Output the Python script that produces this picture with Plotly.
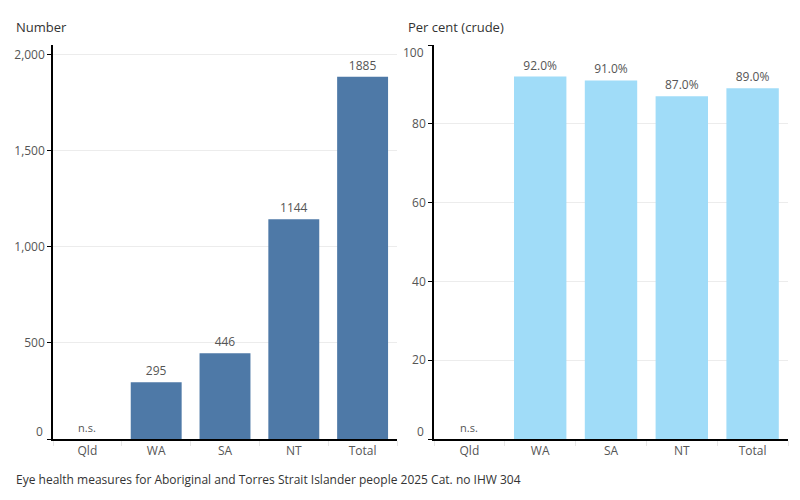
import plotly.graph_objects as go

categories = ["Qld", "WA", "SA", "NT", "Total"]
numbers = [None, 295, 446, 1144, 1885]
percents = [None, 92.0, 91.0, 87.0, 89.0]
number_labels = ["", "295", "446", "1144", "1885"]
percent_labels = ["", "92.0%", "91.0%", "87.0%", "89.0%"]
left_ticks = [0, 500, 1000, 1500, 2000]
right_ticks = [0, 20, 40, 60, 80, 100]

FONT = "Open Sans"
TXT = "#555555"
Y0, Y1 = 1 - 439 / 500, 1 - 45 / 500

fig = go.Figure()
fig.add_trace(go.Bar(x=categories, y=numbers, text=number_labels, textposition="outside",
                     marker=dict(color="#4e79a7", line=dict(width=0)), cliponaxis=False,
                     textfont=dict(family=FONT, size=12, color=TXT), xaxis="x", yaxis="y"))
fig.add_trace(go.Bar(x=categories, y=percents, text=percent_labels, textposition="outside",
                     marker=dict(color="#a0dcf8", line=dict(width=0)), cliponaxis=False,
                     textfont=dict(family=FONT, size=12, color=TXT), xaxis="x2", yaxis="y2"))

xcommon = dict(type="category", showline=True, linecolor="black", linewidth=1.5,
               ticks="outside", tickson="boundaries", tickcolor="#e6e6e6", ticklen=5,
               tickfont=dict(family=FONT, size=12, color=TXT), showgrid=False, fixedrange=True)
ycommon = dict(showline=True, linecolor="black", linewidth=1.5, ticks="outside",
               tickcolor="black", ticklen=4, showgrid=True, gridcolor="#ececec",
               zeroline=False, tickfont=dict(family=FONT, size=12, color=TXT))

fig.update_layout(
    xaxis=dict(domain=[53 / 800, 397 / 800], anchor="y", **xcommon),
    yaxis=dict(domain=[Y0, Y1], anchor="x", range=[0, 2050], tickvals=left_ticks,
               ticktext=["" if v == 0 else f"{v:,}" for v in left_ticks], **ycommon),
    xaxis2=dict(domain=[434 / 800, 788 / 800], anchor="y2", **xcommon),
    yaxis2=dict(domain=[Y0, Y1], anchor="x2", range=[0, 100], tickvals=right_ticks,
                ticktext=["" if v in (0, 100) else str(v) for v in right_ticks], **ycommon),
    bargap=0.26,
    showlegend=False,
    plot_bgcolor="white", paper_bgcolor="white",
    width=800, height=500,
    margin=dict(l=0, r=0, t=0, b=0),
    font=dict(family=FONT, size=12, color=TXT),
)

ann = []
ann.append(dict(x=0, y=0, xref="x domain", yref="y", text="0", showarrow=False,
                xanchor="right", yanchor="middle", xshift=-8, yshift=8,
                font=dict(family=FONT, size=12, color=TXT)))
ann.append(dict(x=0, y=0, xref="x2 domain", yref="y2", text="0", showarrow=False,
                xanchor="right", yanchor="middle", xshift=-8, yshift=8,
                font=dict(family=FONT, size=12, color=TXT)))
ann.append(dict(x=0, y=100, xref="x2 domain", yref="y2", text="100", showarrow=False,
                xanchor="right", yanchor="middle", xshift=-8, yshift=-8,
                font=dict(family=FONT, size=12, color=TXT)))
ann.append(dict(x="Qld", y=0, xref="x", yref="y", text="n.s.", showarrow=False,
                yanchor="bottom", yshift=2, font=dict(family=FONT, size=11, color=TXT)))
ann.append(dict(x="Qld", y=0, xref="x2", yref="y2", text="n.s.", showarrow=False,
                yanchor="bottom", yshift=2, font=dict(family=FONT, size=11, color=TXT)))
ann.append(dict(x=15 / 800, y=1 - 27 / 500, xref="paper", yref="paper", text="Number",
                showarrow=False, xanchor="left", yanchor="middle", borderpad=0,
                font=dict(family=FONT, size=13, color="#333333")))
ann.append(dict(x=407 / 800, y=1 - 27 / 500, xref="paper", yref="paper", text="Per cent (crude)",
                showarrow=False, xanchor="left", yanchor="middle", borderpad=0,
                font=dict(family=FONT, size=13, color="#333333")))
ann.append(dict(x=15 / 800, y=1 - 479 / 500, xref="paper", yref="paper",
                text="Eye health measures for Aboriginal and Torres Strait Islander people 2025 Cat. no IHW 304",
                showarrow=False, xanchor="left", yanchor="middle", borderpad=0,
                font=dict(family=FONT, size=12, color="#333333")))
fig.update_layout(annotations=ann)

fig.write_html("out.html")
